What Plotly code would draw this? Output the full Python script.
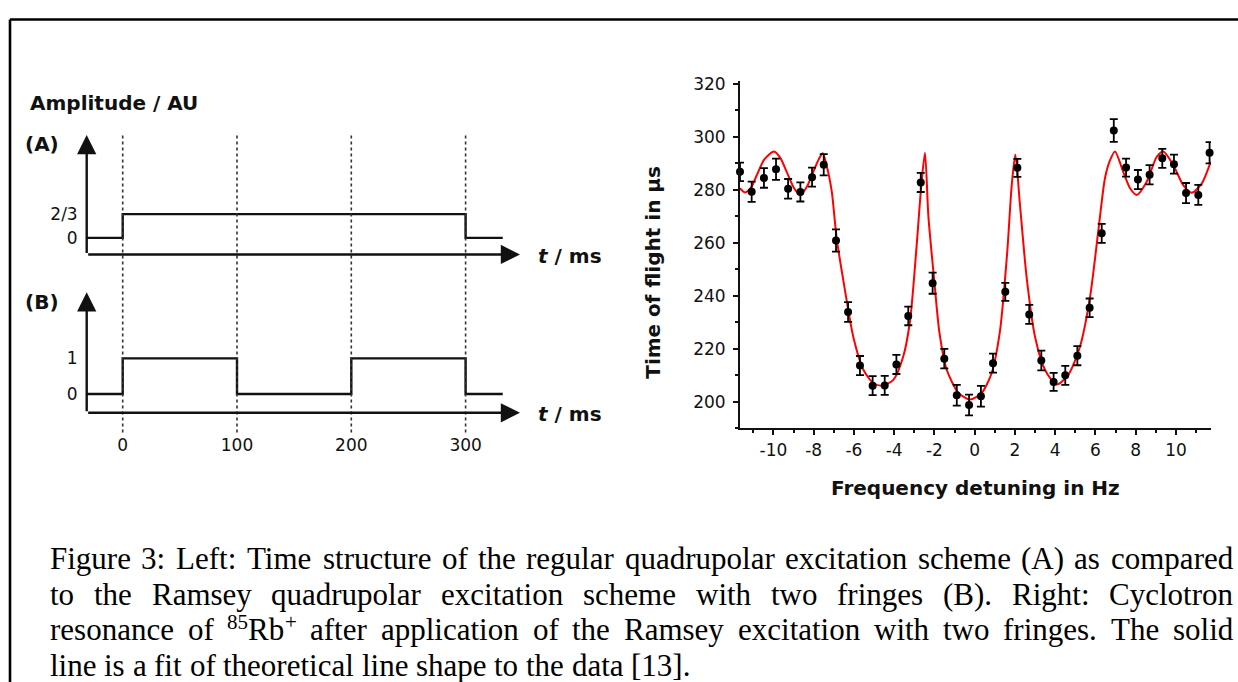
import re
import plotly.graph_objects as go

W, H = 1238, 682

# ---------------- Left panel: excitation time structure ----------------
t_a = [-31.5, 0, 0, 300, 300, 332.5]
amp_a = [0, 0, 2 / 3, 2 / 3, 0, 0]
t_b = [-31.5, 0, 0, 100, 100, 200, 200, 300, 300, 332.5]
amp_b = [0, 0, 1, 1, 0, 0, 1, 1, 0, 0]
time_ticks = [0, 100, 200, 300]
time_tick_text = ["0", "100", "200", "300"]
a_levels = [0, 2 / 3]
a_level_text = ["0", "2/3"]
b_levels = [0, 1]
b_level_text = ["0", "1"]

# ---------------- Right panel: Ramsey resonance of 85Rb+ ----------------
freq = [-11.66, -11.08, -10.47, -9.87, -9.27, -8.66, -8.08, -7.50, -6.89, -6.29,
        -5.70, -5.07, -4.47, -3.89, -3.30, -2.68, -2.09, -1.51, -0.89, -0.28,
        0.31, 0.91, 1.52, 2.12, 2.71, 3.31, 3.92, 4.50, 5.10, 5.71,
        6.31, 6.91, 7.52, 8.11, 8.69, 9.32, 9.90, 10.50, 11.11, 11.67]
tof = [286.8, 279.3, 284.5, 287.8, 280.4, 279.2, 284.8, 289.5, 260.9, 233.9,
       213.7, 206.1, 206.2, 214.1, 232.4, 282.8, 244.8, 216.3, 202.5, 198.8,
       202.1, 214.6, 241.5, 288.3, 233.0, 215.6, 207.5, 210.0, 217.4, 235.5,
       263.6, 302.4, 288.4, 283.9, 285.7, 291.9, 289.7, 278.8, 278.1, 294.0]
tof_err = [3.5, 3.8, 3.7, 4.0, 3.7, 3.6, 3.6, 4.0, 4.2, 3.7,
           3.6, 3.6, 3.6, 3.6, 3.5, 3.6, 4.0, 3.7, 3.9, 3.9,
           3.9, 3.6, 3.4, 3.4, 3.6, 3.7, 3.4, 3.6, 3.6, 3.5,
           3.6, 4.3, 3.4, 3.6, 3.6, 3.6, 3.6, 3.8, 3.8, 4.0]
fit_freq = [-11.66, -11.41, -11.10, -10.83, -10.45, -9.97, -9.65, -9.34, -9.00, -8.68,
            -8.35, -8.02, -7.75, -7.55, -7.35, -7.10, -6.86, -6.44, -6.03, -5.53,
            -5.04, -4.62, -4.04, -3.55, -3.21, -2.88, -2.65, -2.47, -2.30, -2.00,
            -1.75, -1.39, -0.81, -0.23, 0.35, 0.84, 1.26, 1.62, 1.84, 2.02,
            2.25, 2.58, 3.00, 3.49, 4.07, 4.65, 5.23, 5.73, 6.14, 6.47,
            6.72, 6.97, 7.38, 7.72, 8.05, 8.54, 9.04, 9.37, 9.87, 10.36,
            10.78, 11.28, 11.72]
fit_tof = [280.6, 279.0, 281.0, 285.5, 291.5, 294.5, 292.0, 286.8, 281.0, 278.1,
           281.0, 286.8, 291.5, 293.8, 289.0, 279.3, 261.9, 241.9, 224.5, 212.1,
           207.1, 206.1, 208.3, 217.1, 230.7, 259.4, 282.0, 294.0, 270.0, 245.0,
           226.0, 212.1, 203.4, 200.9, 203.4, 210.8, 227.0, 256.9, 281.8, 293.3,
           274.3, 247.0, 224.5, 212.1, 206.5, 210.2, 220.8, 239.5, 264.4, 284.3,
           291.1, 294.5, 286.8, 280.6, 278.1, 283.0, 292.4, 294.5, 289.3, 281.8,
           278.9, 282.4, 290.5]
y_ticks = [200, 220, 240, 260, 280, 300, 320]
x_ticks = [-10, -8, -6, -4, -2, 0, 2, 4, 6, 8, 10]
x_tick_text = ["-10", "-8", "-6", "-4", "-2", "0", "2", "4", "6", "8", "10"]

caption_lines = [
    "Figure 3: Left: Time structure of the regular quadrupolar excitation scheme (A) as compared",
    "to the Ramsey quadrupolar excitation scheme with two fringes (B). Right: Cyclotron",
    "resonance of <sup>85</sup>Rb<sup>+</sup> after application of the Ramsey excitation with two fringes. The solid",
    "line is a fit of theoretical line shape to the data [13].",
]
caption_justified = [True, True, True, False]

# ---------------- layout helpers (pixel -> paper) ----------------
def px(X):
    return X / W


def py(Y):
    return 1 - Y / H


BLACK = "#111111"
SANS = "DejaVu Sans"

fig = go.Figure()

# Left diagram geometry (pixels)
T0_X, PX_PER_MS = 122.7, 1.143
AX_X0, AX_X1 = 86.7, 530.0
t_lo = (AX_X0 - T0_X) / PX_PER_MS
t_hi = (AX_X1 - T0_X) / PX_PER_MS
PX_PER_AMP = 36.0
A_ZERO_Y, A_BASE_Y, A_TOP_Y = 233.3, 250.0, 125.0
B_ZERO_Y, B_BASE_Y, B_TOP_Y = 391.0, 410.0, 285.0
a_lo = (A_ZERO_Y - A_BASE_Y) / PX_PER_AMP
a_hi = (A_ZERO_Y - A_TOP_Y) / PX_PER_AMP
b_lo = (B_ZERO_Y - B_BASE_Y) / PX_PER_AMP
b_hi = (B_ZERO_Y - B_TOP_Y) / PX_PER_AMP
a_arrow = (A_ZERO_Y - 129.3) / PX_PER_AMP
b_arrow = (B_ZERO_Y - 288.3) / PX_PER_AMP
t_arrow = (520.0 - T0_X) / PX_PER_MS

fig.add_trace(go.Scatter(x=t_a, y=amp_a, mode="lines", xaxis="x", yaxis="y",
                         line=dict(color=BLACK, width=2.4), hoverinfo="skip", showlegend=False))
fig.add_trace(go.Scatter(x=t_b, y=amp_b, mode="lines", xaxis="x2", yaxis="y2",
                         line=dict(color=BLACK, width=2.4), hoverinfo="skip", showlegend=False))

# Right plot
fig.add_trace(go.Scatter(x=fit_freq, y=fit_tof, mode="lines", xaxis="x3", yaxis="y3",
                         line=dict(color="#ff0000", width=2, shape="spline", smoothing=0.7),
                         hoverinfo="skip", showlegend=False))
fig.add_trace(go.Scatter(x=freq, y=tof, mode="markers", xaxis="x3", yaxis="y3",
                         marker=dict(color="black", size=8),
                         error_y=dict(type="data", array=tof_err, color="black", thickness=1.8, width=4),
                         cliponaxis=False, showlegend=False))

hidden = dict(showgrid=False, zeroline=False, showline=False, ticks="")
tick_font = dict(family=SANS, size=17, color=BLACK)

fig.update_layout(
    width=W, height=H, margin=dict(l=0, r=0, t=0, b=0),
    paper_bgcolor="white", plot_bgcolor="rgba(0,0,0,0)", showlegend=False,
    xaxis=dict(domain=[px(AX_X0), px(AX_X1)], range=[t_lo, t_hi], anchor="y",
               showticklabels=False, **hidden),
    yaxis=dict(domain=[py(A_BASE_Y), py(A_TOP_Y)], range=[a_lo, a_hi], anchor="x",
               tickvals=a_levels, ticktext=a_level_text, tickfont=tick_font,
               ticklabelstandoff=8, **hidden),
    xaxis2=dict(domain=[px(AX_X0), px(AX_X1)], range=[t_lo, t_hi], anchor="y2",
                tickvals=time_ticks, ticktext=time_tick_text, tickfont=tick_font,
                ticklabelstandoff=20, **hidden),
    yaxis2=dict(domain=[py(B_BASE_Y), py(B_TOP_Y)], range=[b_lo, b_hi], anchor="x2",
                tickvals=b_levels, ticktext=b_level_text, tickfont=tick_font,
                ticklabelstandoff=8, **hidden),
    xaxis3=dict(domain=[px(740), px(1211)], range=[-11.66, 11.74], anchor="y3",
                tickvals=x_ticks, ticktext=x_tick_text, tickfont=tick_font,
                ticks="outside", ticklen=5, tickwidth=1.6, tickcolor=BLACK,
                minor=dict(ticks="outside", ticklen=3, tickwidth=1.6, tickcolor=BLACK, dtick=1, tick0=0),
                showline=True, linecolor=BLACK, linewidth=2, showgrid=False, zeroline=False,
                ticklabelstandoff=0),
    yaxis3=dict(domain=[py(425.7), py(75.0)], range=[190, 321], anchor="x3",
                tickvals=y_ticks, tickfont=tick_font,
                ticks="outside", ticklen=5, tickwidth=1.6, tickcolor=BLACK,
                minor=dict(ticks="outside", ticklen=3, tickwidth=1.6, tickcolor=BLACK, dtick=10, tick0=0),
                showline=True, linecolor=BLACK, linewidth=2, showgrid=False, zeroline=False,
                ticklabelstandoff=4),
)

annotations = []
# arrows of the left diagram
for xr, yr, base, top in [("x", "y", a_lo, a_arrow), ("x2", "y2", b_lo, b_arrow)]:
    annotations.append(dict(x=t_lo, y=top, ax=t_lo, ay=base, xref=xr, yref=yr, axref=xr, ayref=yr,
                            text="", showarrow=True, arrowhead=2, arrowsize=1.6, arrowwidth=2.4,
                            arrowcolor=BLACK, standoff=0, startstandoff=0))
    annotations.append(dict(x=t_arrow, y=base, ax=t_lo, ay=base, xref=xr, yref=yr, axref=xr, ayref=yr,
                            text="", showarrow=True, arrowhead=2, arrowsize=1.6, arrowwidth=2.4,
                            arrowcolor=BLACK, standoff=0, startstandoff=0))

bold20 = dict(family=SANS, size=20, color=BLACK)
annotations += [
    dict(x=px(28), y=py(97), xref="paper", yref="paper", text="<b>Amplitude / AU</b>",
         showarrow=False, xanchor="left", yanchor="middle", font=bold20),
    dict(x=px(42), y=py(138), xref="paper", yref="paper", text="<b>(A)</b>",
         showarrow=False, xanchor="center", yanchor="middle", font=bold20),
    dict(x=px(42), y=py(298), xref="paper", yref="paper", text="<b>(B)</b>",
         showarrow=False, xanchor="center", yanchor="middle", font=bold20),
    dict(x=px(536), y=py(252), xref="paper", yref="paper", text="<b><i>t</i> / ms</b>",
         showarrow=False, xanchor="left", yanchor="middle", font=bold20),
    dict(x=px(536), y=py(411), xref="paper", yref="paper", text="<b><i>t</i> / ms</b>",
         showarrow=False, xanchor="left", yanchor="middle", font=bold20),
    dict(x=px(653.5), y=py(268), xref="paper", yref="paper", text="<b>Time of flight in µs</b>",
         showarrow=False, textangle=-90, xanchor="center", yanchor="middle", font=bold20),
    dict(x=px(975.5), y=py(486), xref="paper", yref="paper", text="<b>Frequency detuning in Hz</b>",
         showarrow=False, xanchor="center", yanchor="middle", font=bold20),
]

# caption, justified like the source document
TIMES = {" ": 250, "(": 333, ")": 333, "+": 564, ".": 250, "1": 500, "3": 500, "5": 500, "8": 500,
         ":": 278, "[": 333, "]": 333, "A": 722, "B": 667, "C": 667, "F": 556, "L": 611, "R": 667,
         "T": 611, "a": 444, "b": 500, "c": 444, "d": 500, "e": 444, "f": 333, "g": 500, "h": 500,
         "i": 278, "l": 278, "m": 778, "n": 500, "o": 500, "p": 500, "q": 500, "r": 333, "s": 389,
         "t": 278, "u": 500, "v": 500, "w": 722, "x": 500, "y": 500, "z": 444}
CAP_SIZE = 31
SUP_SIZE = 21
SUP_RAISE = 11


def pieces(word):
    """Split a word into (text, is_superscript) parts."""
    out = []
    for part in re.split(r"(<sup>.*?</sup>)", word):
        if not part:
            continue
        if part.startswith("<sup>"):
            out.append((part[5:-6], True))
        else:
            out.append((part, False))
    return out


def piece_width(text, sup):
    size = SUP_SIZE if sup else CAP_SIZE
    return sum(TIMES.get(c, 500) for c in text) * size / 1000.0


CAP_LEFT, CAP_RIGHT = 50.0, 1233.0
baselines = [568.3, 604.3, 640.2, 676.0]
for line, just, base in zip(caption_lines, caption_justified, baselines):
    words = [pieces(w) for w in line.split(" ")]
    widths = [sum(piece_width(t, s) for t, s in wp) for wp in words]
    space = TIMES[" "] * CAP_SIZE / 1000.0
    if just and len(words) > 1:
        space = (CAP_RIGHT - CAP_LEFT - sum(widths)) / (len(words) - 1)
    X = CAP_LEFT
    for wp, ww in zip(words, widths):
        xx = X
        for text, sup in wp:
            size = SUP_SIZE if sup else CAP_SIZE
            b = base - (SUP_RAISE if sup else 0)
            annotations.append(dict(x=px(xx), y=py(b + 0.216 * size), xref="paper", yref="paper",
                                    text=text, showarrow=False, xanchor="left", yanchor="bottom",
                                    borderpad=0, borderwidth=0,
                                    font=dict(family="Liberation Serif", size=size, color="black")))
            xx += piece_width(text, sup)
        X += ww + space

fig.update_layout(annotations=annotations)

# dotted time markers (through the time axis scale) and document frame
shapes = []
for t in time_ticks:
    shapes.append(dict(type="line", xref="x", yref="paper", x0=t, x1=t, y0=py(430), y1=py(126.7),
                       line=dict(color="#333333", width=1.6, dash="dot")))
shapes.append(dict(type="line", xref="paper", yref="paper", x0=px(10), x1=1, y0=py(12.7), y1=py(12.7),
                   line=dict(color="black", width=2.6)))
shapes.append(dict(type="line", xref="paper", yref="paper", x0=px(10), x1=px(10), y0=py(12.7), y1=0,
                   line=dict(color="black", width=2.6)))
fig.update_layout(shapes=shapes)

fig.write_html("out.html")
